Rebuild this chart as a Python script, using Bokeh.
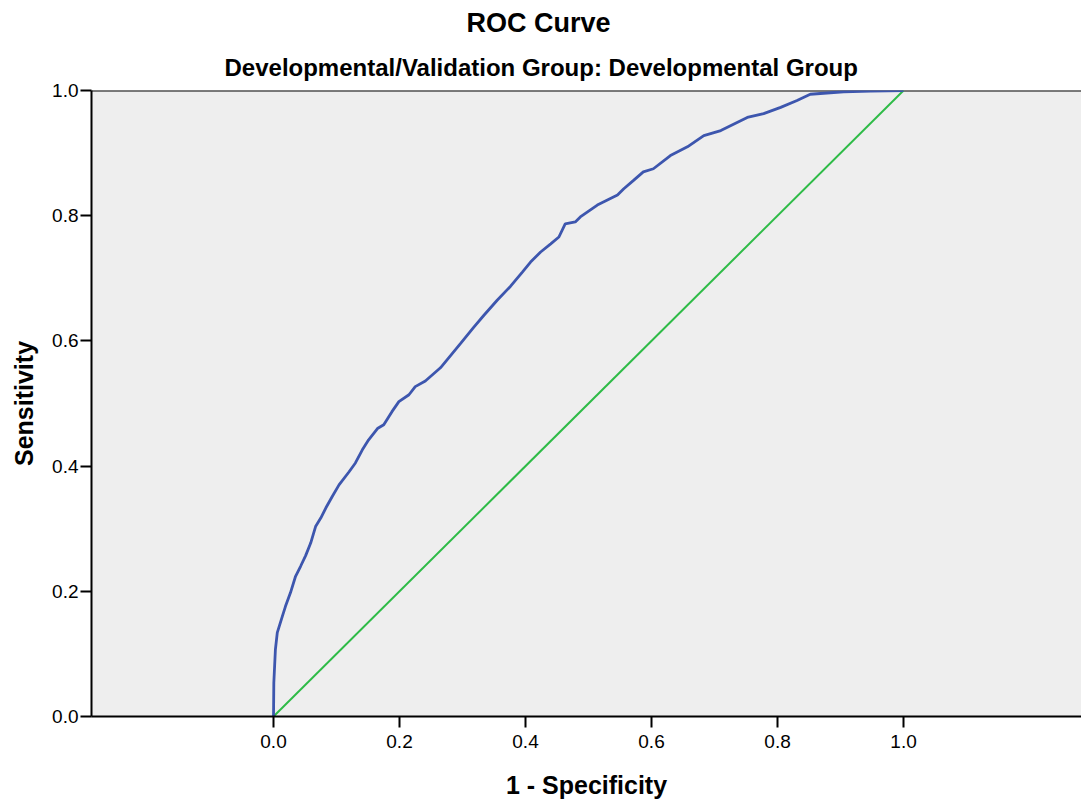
from bokeh.plotting import figure
from bokeh.models import Range1d, FixedTicker, PrintfTickFormatter, Span, Title
from bokeh.embed import file_html
from bokeh.resources import INLINE

# ROC curve points (1 - specificity, sensitivity)
fpr = [0, 0.0005, 0.003, 0.006, 0.014, 0.019, 0.027, 0.035, 0.043, 0.051, 0.059, 0.067,
       0.075, 0.083, 0.093, 0.104, 0.120, 0.130, 0.141, 0.151, 0.165, 0.175, 0.188, 0.199,
       0.215, 0.225, 0.241, 0.265, 0.297, 0.318, 0.334, 0.355, 0.376, 0.395, 0.408, 0.424,
       0.440, 0.453, 0.463, 0.479, 0.487, 0.514, 0.546, 0.556, 0.571, 0.587, 0.603, 0.630,
       0.657, 0.683, 0.710, 0.752, 0.778, 0.805, 0.831, 0.852, 0.905, 0.948, 1.0]
tpr = [0, 0.054, 0.107, 0.134, 0.160, 0.176, 0.198, 0.224, 0.240, 0.257, 0.277, 0.304,
       0.317, 0.333, 0.351, 0.370, 0.391, 0.405, 0.426, 0.442, 0.460, 0.466, 0.487, 0.503,
       0.514, 0.527, 0.536, 0.557, 0.596, 0.622, 0.641, 0.665, 0.687, 0.710, 0.726, 0.742,
       0.755, 0.766, 0.787, 0.790, 0.798, 0.817, 0.833, 0.843, 0.856, 0.870, 0.875, 0.896,
       0.910, 0.928, 0.936, 0.957, 0.963, 0.973, 0.984, 0.994, 0.998, 0.999, 1.0]
# Reference (chance) line
ref_x = [0.0, 1.0]
ref_y = [0.0, 1.0]
tick_values = [0.0, 0.2, 0.4, 0.6, 0.8, 1.0]

title_text = "ROC Curve"
subtitle_text = "Developmental/Validation Group: Developmental Group"
x_label = "1 - Specificity"
y_label = "Sensitivity"

FONT = "Liberation Sans"

p = figure(width=1081, height=801, output_backend="svg", toolbar_location=None,
           title=None,
           x_range=Range1d(-0.2889, 1.2825), y_range=Range1d(0, 1),
           min_border_left=91, min_border_right=0, min_border_top=90, min_border_bottom=84)
p.border_fill_color = "white"
p.outline_line_color = None
p.background_fill_color = "#EEEEEE"
p.xgrid.visible = False
p.ygrid.visible = False

for ax in (p.xaxis[0], p.yaxis[0]):
    ax.ticker = FixedTicker(ticks=tick_values)
    ax.formatter = PrintfTickFormatter(format="%.1f")
    ax.axis_line_color = "black"
    ax.axis_line_width = 2
    ax.major_tick_line_color = "black"
    ax.major_tick_line_width = 2
    ax.major_tick_in = 0
    ax.major_tick_out = 11
    ax.minor_tick_line_color = None
    ax.major_label_text_font = FONT
    ax.major_label_text_font_size = "19px"
    ax.major_label_text_color = "black"
    ax.axis_label_text_font = FONT
    ax.axis_label_text_font_size = "25px"
    ax.axis_label_text_font_style = "bold"
    ax.axis_label_text_color = "black"

p.xaxis.axis_label = x_label
p.yaxis.axis_label = y_label
p.xaxis.major_label_standoff = 7
p.xaxis.axis_label_standoff = 20
p.yaxis.major_label_standoff = 2
p.yaxis.axis_label_standoff = 11
p.yaxis.major_label_orientation = "horizontal"

top_line = Span(location=1.0, dimension="width", line_color="black", line_width=2,
                level="underlay")
p.add_layout(top_line)

p.line(ref_x, ref_y, line_color="#2EBB47", line_width=2)
p.line(fpr, tpr, line_color="#3D56AE", line_width=2.8)

p.add_layout(Title(text=subtitle_text, align="left", offset=133, text_font=FONT,
                   text_font_size="24px", text_font_style="bold", text_color="black",
                   standoff=19), "above")
p.add_layout(Title(text=title_text, align="left", offset=375, text_font=FONT,
                   text_font_size="27px", text_font_style="bold", text_color="black",
                   standoff=9), "above")

open("out.html", "w").write(file_html(p, INLINE))
